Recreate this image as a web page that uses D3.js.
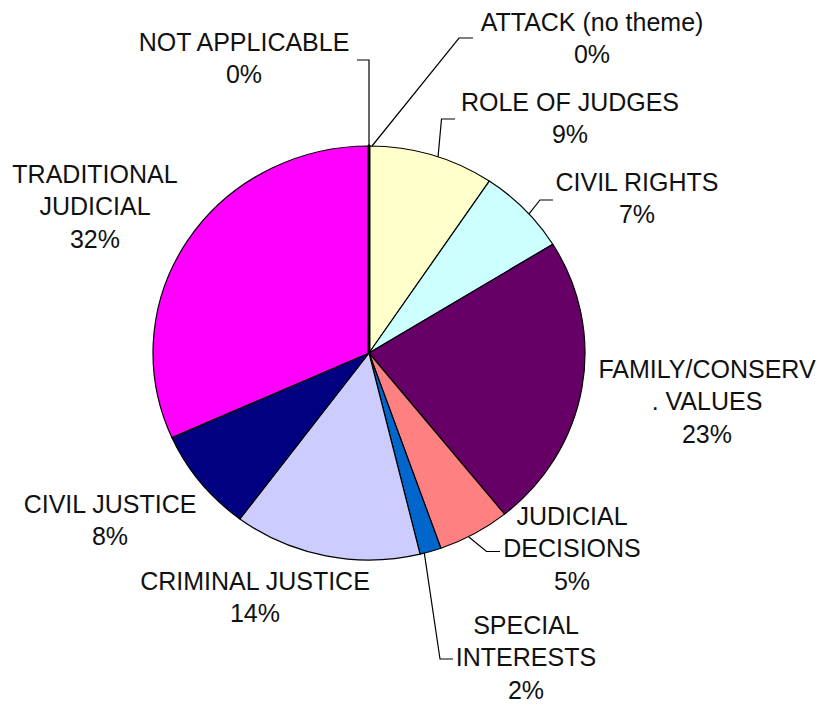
<!DOCTYPE html>
<html>
<head>
<meta charset="utf-8">
<script src="https://cdn.jsdelivr.net/npm/d3@7/dist/d3.min.js"></script>
<style>
  html, body { margin: 0; padding: 0; background: #fff; }
  svg { display: block; }
  text { font-family: "Liberation Sans", Arial, sans-serif; font-size: 25px; fill: #111; }
</style>
</head>
<body>
<svg id="chart" width="826" height="706"></svg>
<script>
// ---- data ----
const categories = [
  "ATTACK (no theme)", "ROLE OF JUDGES", "CIVIL RIGHTS", "FAMILY/CONSERV. VALUES",
  "JUDICIAL DECISIONS", "SPECIAL INTERESTS", "CRIMINAL JUSTICE", "CIVIL JUSTICE",
  "TRADITIONAL JUDICIAL", "NOT APPLICABLE"
];
const values = [0, 9.4, 6.8, 23.0, 5.4, 1.6, 14.0, 8.1, 31.7, 0];
const labelLines = [
  ["ATTACK (no theme)"], ["ROLE OF JUDGES"], ["CIVIL RIGHTS"], ["FAMILY/CONSERV", ". VALUES"],
  ["JUDICIAL", "DECISIONS"], ["SPECIAL", "INTERESTS"], ["CRIMINAL JUSTICE"], ["CIVIL JUSTICE"],
  ["TRADITIONAL", "JUDICIAL"], ["NOT APPLICABLE"]
];
const colors = ["#FFFFFF", "#FFFFCC", "#CCFFFF", "#660066", "#FF8080", "#0066CC",
                "#CCCCFF", "#000080", "#FF00FF", "#FFFFFF"];

// ---- layout (not data) ----
const cx = 369, cy = 353, rx = 216, ry = 207;
// label block: center x, first-line cap-top y; leader: [elbow, end] or null
const labelLayout = [
  { x: 592, y: 13,  leader: [[459, 38], [473, 38]], start: [372, 146] },
  { x: 570, y: 93,  leader: [[441.5, 119], [455, 119]] },
  { x: 637, y: 173, leader: [[540, 200], [553, 200]] },
  { x: 707, y: 360, leader: null },
  { x: 572, y: 507, leader: [[486.5, 551.5], [500, 551.5]] },
  { x: 526, y: 616, leader: [[440, 659], [453, 659]] },
  { x: 255, y: 572, leader: null },
  { x: 110, y: 495, leader: null },
  { x: 95,  y: 165, leader: null },
  { x: 244, y: 33,  leader: [[369, 60], [357, 60]], start: [369, 146] }
];
const lineGap = 32.5, capH = 17.8;

const svg = d3.select("#chart");
const pie = d3.pie().sort(null).value(d => d).startAngle(0).endAngle(2 * Math.PI);
const arcs = pie(values);
const arc = d3.arc().innerRadius(0).outerRadius(rx);

const g = svg.append("g").attr("transform", `translate(${cx},${cy}) scale(1,${ry / rx})`);
g.selectAll("path.slice")
  .data(arcs)
  .join("path")
  .attr("class", "slice")
  .attr("d", arc)
  .attr("fill", (d, i) => colors[i])
  .attr("stroke", "#000")
  .attr("stroke-width", d => d.value === 0 ? 3 : 1.2)
  .attr("stroke-linejoin", "round")
  .attr("vector-effect", "non-scaling-stroke");

// leader lines
const leaderData = arcs.map((d, i) => ({ d, i, L: labelLayout[i] })).filter(o => o.L.leader);
svg.selectAll("polyline.leader")
  .data(leaderData)
  .join("polyline")
  .attr("class", "leader")
  .attr("fill", "none")
  .attr("stroke", "#000")
  .attr("stroke-width", 1.2)
  .attr("points", o => {
    let s = o.L.start;
    if (!s) {
      const a = (o.d.startAngle + o.d.endAngle) / 2 + 0.03;
      s = [cx + rx * Math.sin(a), cy - ry * Math.cos(a)];
    }
    return [s, ...o.L.leader].map(p => p.join(",")).join(" ");
  });

// labels
const fmt = v => Math.round(v) + "%";
const lg = svg.selectAll("text.lbl")
  .data(arcs)
  .join("text")
  .attr("class", "lbl")
  .attr("text-anchor", "middle");
lg.each(function (d, i) {
  const L = labelLayout[i];
  const lines = labelLines[i].concat([fmt(values[i])]);
  const t = d3.select(this);
  lines.forEach((s, k) => {
    t.append("tspan")
      .attr("x", L.x)
      .attr("y", L.y + capH + k * lineGap)
      .text(s);
  });
});
</script>
</body>
</html>
